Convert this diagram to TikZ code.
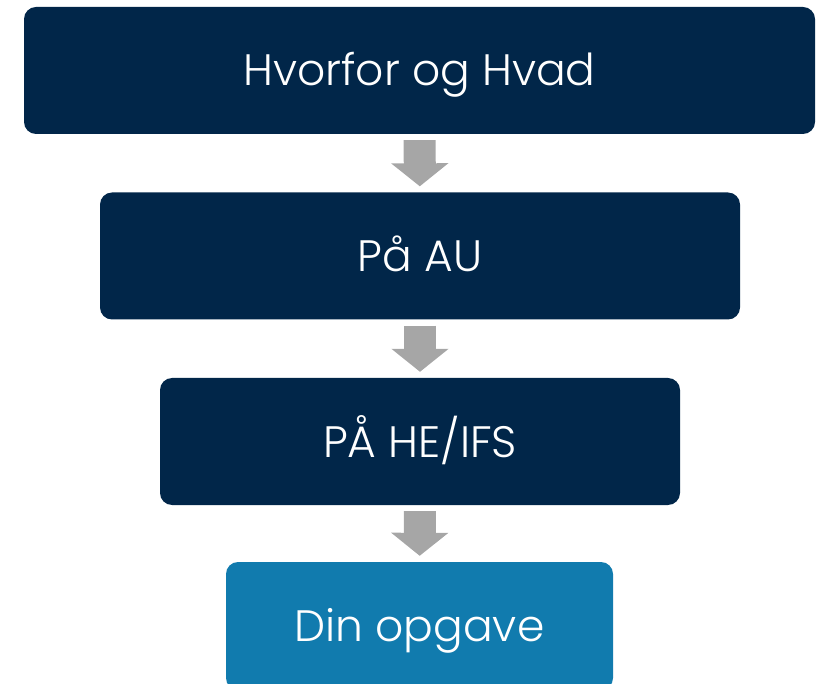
\documentclass[tikz,border=0pt]{standalone}
\usepackage{fontspec}
\setmainfont{Poppins}[UprightFont=* Light]
\usetikzlibrary{positioning}
\usetikzlibrary{arrows.meta}

\definecolor{aunavy}{RGB}{1,38,73}
\definecolor{aublue}{RGB}{17,123,174}
\definecolor{flowgray}{RGB}{166,166,166}

\tikzset{
    stepbox/.style={fill=aunavy, rounded corners=12pt, text=white,
        minimum height=127pt, inner sep=0pt, text height=31pt, text depth=0pt,
        font=\fontsize{44}{50}\selectfont},
    lastbox/.style={stepbox, fill=aublue},
    flow/.style={draw=flowgray, line width=32pt,
        -{Triangle[width=56pt,length=23pt]}, shorten <=6pt, shorten >=6pt}
}

\begin{document}
\begin{tikzpicture}[x=1pt,y=-1pt]

    \useasboundingbox (0,0) rectangle (825,684);

    \node[stepbox, minimum width=791pt] (hvorfor) at (419.5,70.5) {Hvorfor og Hvad};
    \node[stepbox, minimum width=640pt] (au) at (420,256) {På AU};
    \node[stepbox, minimum width=520pt] (heifs) at (420,441.5) {PÅ HE/IFS};
    \node[lastbox, minimum width=387pt, minimum height=128pt] (opgave) at (419.5,626) {Din opgave};

    \draw[flow] (hvorfor) -- (au);
    \draw[flow] (au) -- (heifs);
    \draw[flow] (heifs) -- (opgave);

\end{tikzpicture}
\end{document}
